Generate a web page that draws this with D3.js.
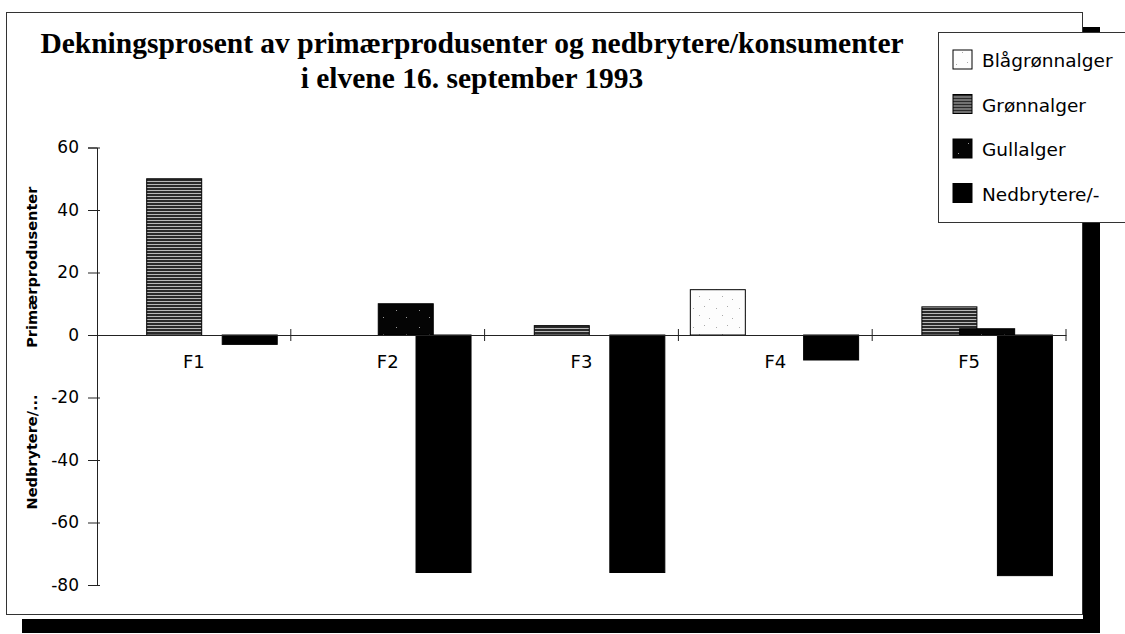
<!DOCTYPE html>
<html>
<head>
<meta charset="utf-8">
<script src="https://cdnjs.cloudflare.com/ajax/libs/d3/7.8.5/d3.min.js"></script>
<style>
  body { margin: 0; background: #fff; }
  svg { display: block; }
</style>
</head>
<body>
<div id="chart"></div>
<script>
// chart data
const categories = ['F1', 'F2', 'F3', 'F4', 'F5'];
const seriesNames = ['Blågrønnalger', 'Grønnalger', 'Gullalger', 'Nedbrytere/-'];
const blagronnalger = [0, 0, 0, 14.5, 0];
const gronnalger = [50, 0, 3, 0, 9];
const gullalger = [0, 10, 0, 0, 2];
const nedbrytere = [-3, -76, -76, -8, -77];
const yTicks = [60, 40, 20, 0, -20, -40, -60, -80];
const titleLines = [
  'Dekningsprosent av primærprodusenter og nedbrytere/konsumenter',
  'i elvene 16. september 1993',
];
const yTitles = ['Primærprodusenter', 'Nedbrytere/...'];

const seriesValues = [blagronnalger, gronnalger, gullalger, nedbrytere];

const W = 1125;
const H = 634;

const svg = d3
  .select('#chart')
  .append('svg')
  .attr('width', W)
  .attr('height', H);

// fill patterns, like the old b/w print
const defs = svg.append('defs');

const pBlue = defs.append('pattern')
  .attr('id', 'pat-bla')
  .attr('patternUnits', 'userSpaceOnUse')
  .attr('width', 23)
  .attr('height', 19);
pBlue.append('rect').attr('width', 23).attr('height', 19).attr('fill', '#fdfdfd');
[[3, 4], [14, 2], [9, 11], [19, 14]].forEach(([cx, cy]) => {
  pBlue.append('rect').attr('x', cx).attr('y', cy).attr('width', 1).attr('height', 1).attr('fill', '#aaa');
});

const pGreen = defs.append('pattern')
  .attr('id', 'pat-gronn')
  .attr('patternUnits', 'userSpaceOnUse')
  .attr('width', 8)
  .attr('height', 3);
pGreen.append('rect').attr('width', 8).attr('height', 3).attr('fill', '#2a2a2a');
pGreen.append('rect').attr('y', 1).attr('width', 8).attr('height', 1).attr('fill', '#b8b8b8');

const pGull = defs.append('pattern')
  .attr('id', 'pat-gull')
  .attr('patternUnits', 'userSpaceOnUse')
  .attr('width', 23)
  .attr('height', 17);
pGull.append('rect').attr('width', 23).attr('height', 17).attr('fill', '#050505');
[[5, 4], [15, 11]].forEach(([cx, cy]) => {
  pGull.append('rect').attr('x', cx).attr('y', cy).attr('width', 1).attr('height', 1).attr('fill', '#999');
});

const fills = ['url(#pat-bla)', 'url(#pat-gronn)', 'url(#pat-gull)', '#000'];

// frame and its shadow
svg.append('rect')
  .attr('x', 1083).attr('y', 27)
  .attr('width', 17).attr('height', 606)
  .attr('fill', '#000');
svg.append('rect')
  .attr('x', 22).attr('y', 619)
  .attr('width', 1078).attr('height', 14)
  .attr('fill', '#000');
svg.append('rect')
  .attr('x', 6.5).attr('y', 12.5)
  .attr('width', 1076).attr('height', 602)
  .attr('fill', '#fff')
  .attr('stroke', '#333')
  .attr('stroke-width', 1);

// title
svg.append('g')
  .selectAll('text')
  .data(titleLines)
  .join('text')
  .attr('x', 472)
  .attr('y', (d, i) => 53 + i * 35)
  .attr('text-anchor', 'middle')
  .style('font-family', '"Liberation Serif", "Times New Roman", serif')
  .style('font-weight', 'bold')
  .style('font-size', '29.5px')
  .text(d => d);

// scales
const xScale = d3.scaleBand()
  .domain(categories)
  .range([97, 1066])
  .padding(0);
const xSub = d3.scaleLinear()
  .domain([0, seriesNames.length - 1])
  .range([12, 126]);
const barW = 55;
const yScale = d3.scaleLinear()
  .domain([-80, 60])
  .range([585, 147.5]);

// bars, later series drawn on top
const bars = [];
seriesValues.forEach((vals, s) => {
  vals.forEach((v, c) => {
    if (v !== 0) bars.push({ s, c: categories[c], v });
  });
});

svg.append('g')
  .selectAll('rect')
  .data(bars)
  .join('rect')
  .attr('x', d => xScale(d.c) + xSub(d.s) * (xScale.bandwidth() / 195))
  .attr('y', d => yScale(Math.max(0, d.v)))
  .attr('width', barW)
  .attr('height', d => Math.abs(yScale(d.v) - yScale(0)))
  .attr('fill', d => fills[d.s])
  .attr('stroke', '#000')
  .attr('stroke-width', 1);

// Y axis
const yAxis = svg.append('g')
  .attr('transform', 'translate(97,0)')
  .call(d3.axisLeft(yScale)
    .tickValues(yTicks)
    .tickFormat(d => String(d))
    .tickSize(9)
    .tickPadding(9));
yAxis.select('.domain').attr('stroke', '#222');
yAxis.selectAll('.tick line').attr('x1', 3).attr('stroke', '#222');
yAxis.selectAll('.tick text')
  .style('font-family', '"DejaVu Sans", sans-serif')
  .style('font-size', '17px')
  .attr('fill', '#000');

// X axis on the zero line
const xAxis = svg.append('g')
  .attr('transform', `translate(0,${yScale(0)})`)
  .call(d3.axisBottom(xScale).tickSize(0).tickPadding(20));
xAxis.select('.domain').attr('stroke', '#222');
xAxis.selectAll('.tick text')
  .style('font-family', '"DejaVu Sans", sans-serif')
  .style('font-size', '18px')
  .attr('fill', '#000');

// category boundary ticks
xAxis.append('g')
  .selectAll('line')
  .data(categories)
  .join('line')
  .attr('x1', d => xScale(d) + xScale.bandwidth())
  .attr('x2', d => xScale(d) + xScale.bandwidth())
  .attr('y1', -6)
  .attr('y2', 6)
  .attr('stroke', '#222');

// rotated y titles
svg.append('text')
  .attr('transform', `translate(37,${(yScale(0) + yScale(60)) / 2 + 26}) rotate(-90)`)
  .attr('text-anchor', 'middle')
  .style('font-family', '"DejaVu Sans", sans-serif')
  .style('font-weight', 'bold')
  .style('font-size', '14.5px')
  .text(yTitles[0]);
svg.append('text')
  .attr('transform', `translate(37,${(yScale(0) + yScale(-80)) / 2 - 8}) rotate(-90)`)
  .attr('text-anchor', 'middle')
  .style('font-family', '"DejaVu Sans", sans-serif')
  .style('font-weight', 'bold')
  .style('font-size', '14.5px')
  .text(yTitles[1]);

// legend
const legend = svg.append('g').attr('transform', 'translate(938,32)');
legend.append('rect')
  .attr('x', 0.5).attr('y', 0.5)
  .attr('width', 200).attr('height', 190)
  .attr('fill', '#fff')
  .attr('stroke', '#333');
const item = legend.selectAll('.item')
  .data(seriesNames)
  .join('g')
  .attr('class', 'item')
  .attr('transform', (d, i) => `translate(15,${28 + i * 44.5})`);
item.append('rect')
  .attr('x', 0).attr('y', -10)
  .attr('width', 19).attr('height', 19)
  .attr('fill', (d, i) => fills[i])
  .attr('stroke', '#000');
item.append('text')
  .attr('x', 29)
  .attr('y', 7)
  .style('font-family', '"DejaVu Sans", sans-serif')
  .style('font-size', '18.5px')
  .text(d => d);
</script>
</body>
</html>
